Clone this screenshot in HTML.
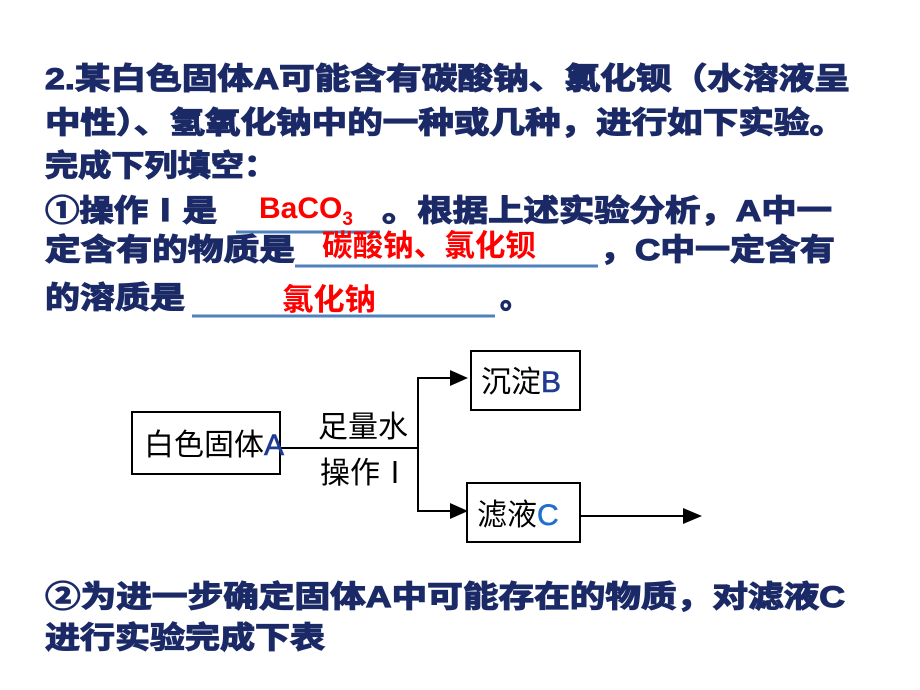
<!DOCTYPE html>
<html><head><meta charset="utf-8"><style>
html,body{margin:0;padding:0;background:#fff;}
svg{display:block}
.t{font-family:"Liberation Sans","Noto Sans CJK SC",sans-serif;font-weight:bold;font-size:30px;fill:#1b2a66;stroke:#1b2a66;stroke-width:1.2px;}
.r{font-family:"Liberation Sans","Noto Sans CJK SC",sans-serif;font-weight:bold;font-size:30px;fill:#ff0000;}
.d{font-family:"Liberation Sans","Noto Sans CJK SC",sans-serif;font-size:30px;fill:#000;}
</style></head><body>
<svg width="920" height="690" viewBox="0 0 920 690" xmlns="http://www.w3.org/2000/svg">
<text class="t" x="45" y="89" textLength="805" lengthAdjust="spacingAndGlyphs">2.某白色固体A可能含有碳酸钠、氯化钡（水溶液呈</text>
<text class="t" x="45" y="133" textLength="800" lengthAdjust="spacingAndGlyphs">中性）、氢氧化钠中的一种或几种，进行如下实验。</text>
<text class="t" x="45" y="176" textLength="232" lengthAdjust="spacingAndGlyphs">完成下列填空：</text>
<text class="t" x="45" y="221" textLength="172" lengthAdjust="spacingAndGlyphs">①操作<tspan font-weight="bold">Ⅰ</tspan>是</text>
<line x1="236" y1="232" x2="380" y2="232" stroke="#4f81bd" stroke-width="3"/>
<text class="r" x="259" y="218">BaCO<tspan font-size="19" dy="7">3</tspan></text>
<text class="t" x="382" y="221" textLength="450" lengthAdjust="spacingAndGlyphs">。根据上述实验分析，A中一</text>
<text class="t" x="45" y="260" textLength="250" lengthAdjust="spacingAndGlyphs">定含有的物质是</text>
<line x1="295" y1="266" x2="598" y2="266" stroke="#4f81bd" stroke-width="3"/>
<text class="r" x="322" y="256" textLength="214" lengthAdjust="spacingAndGlyphs">碳酸钠、氯化钡</text>
<text class="t" x="600" y="260" textLength="235" lengthAdjust="spacingAndGlyphs">，C中一定含有</text>
<text class="t" x="45" y="308" textLength="140" lengthAdjust="spacingAndGlyphs">的溶质是</text>
<line x1="192" y1="316" x2="495" y2="316" stroke="#4f81bd" stroke-width="3"/>
<text class="r" x="282" y="310" textLength="94" lengthAdjust="spacingAndGlyphs">氯化钠</text>
<text class="t" x="500" y="308">。</text>

<g stroke="#000" stroke-width="2" fill="none">
<rect x="132" y="412" width="148" height="62"/>
<rect x="471" y="351" width="109" height="59"/>
<rect x="467" y="483" width="113" height="59"/>
<polyline points="280,448 418,448"/>
<polyline points="455,378 418,378 418,511 455,511"/>
<line x1="580" y1="516" x2="688" y2="516"/>
</g>
<g fill="#000">
<polygon points="450,370 468,378 450,386"/>
<polygon points="450,503 468,511 450,519"/>
<polygon points="683,508 702,516 683,524"/>
</g>
<text class="d" x="144" y="455" font-size="29">白色固体<tspan fill="#1f3a93" stroke="#1f3a93" stroke-width="0.6">A</tspan></text>
<text class="d" x="318" y="437" font-size="29">足量水</text>
<text class="d" x="320" y="483" font-size="29">操作Ⅰ</text>
<text class="d" x="481" y="392" font-size="29">沉淀<tspan fill="#1f3a93" stroke="#1f3a93" stroke-width="0.6">B</tspan></text>
<text class="d" x="477" y="525" font-size="29">滤液<tspan fill="#1f6fd0" stroke="#1f6fd0" stroke-width="0.6">C</tspan></text>

<text class="t" x="45" y="607" textLength="800" lengthAdjust="spacingAndGlyphs">②为进一步确定固体A中可能存在的物质，对滤液C</text>
<text class="t" x="45" y="648" textLength="280" lengthAdjust="spacingAndGlyphs">进行实验完成下表</text>
</svg>
</body></html>
